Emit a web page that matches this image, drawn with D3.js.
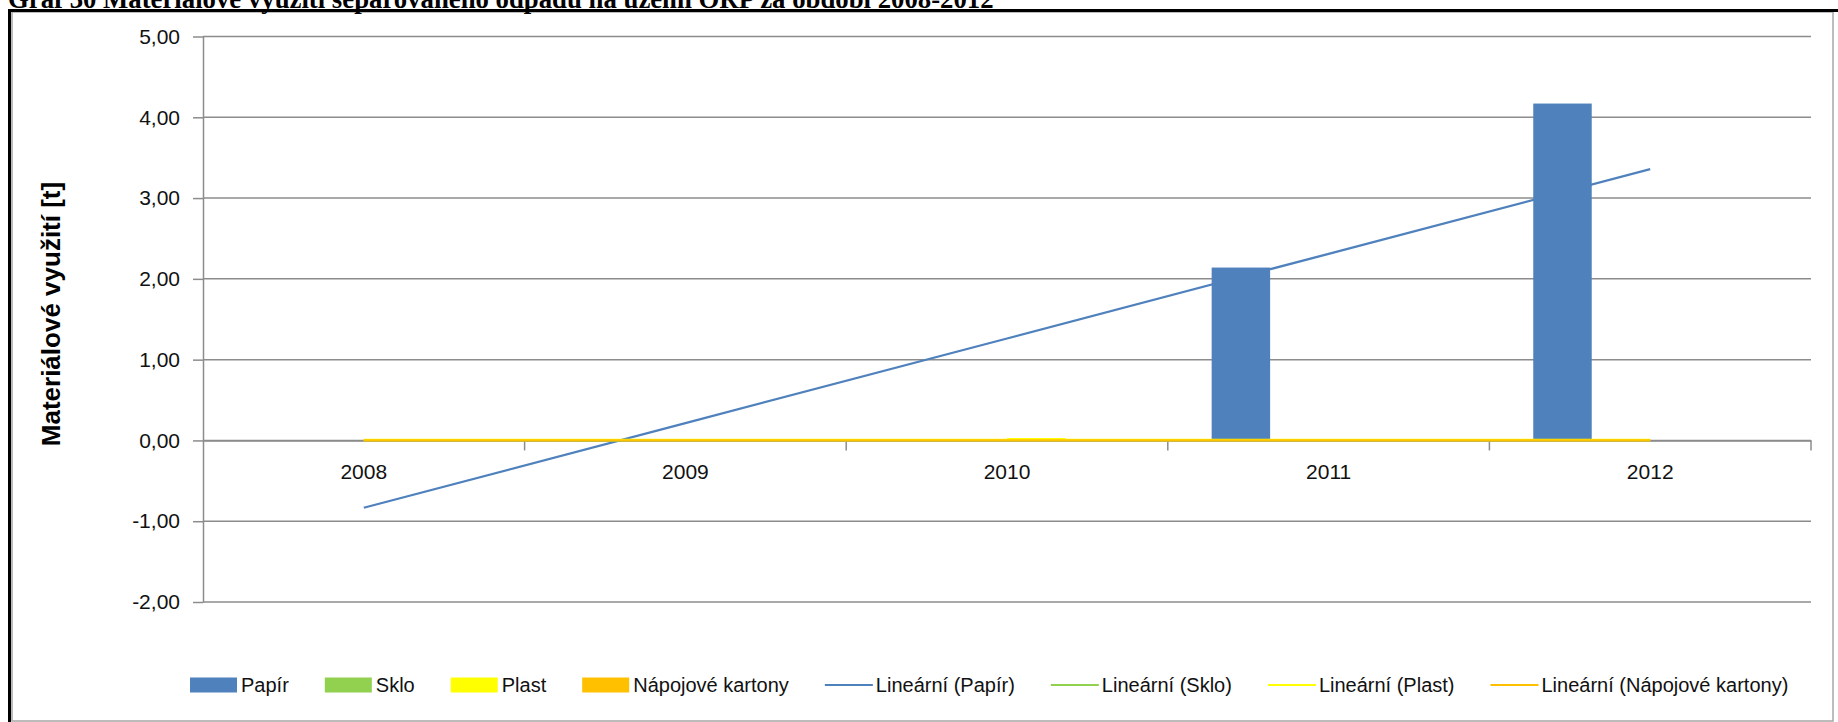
<!DOCTYPE html>
<html>
<head>
<meta charset="utf-8">
<script src="https://cdn.jsdelivr.net/npm/d3@7"></script>
<style>
  html, body { margin: 0; padding: 0; background: #fff; }
  svg { display: block; }
</style>
</head>
<body>
<svg id="chart" width="1838" height="722"></svg>
<script>
// ---- data ----
const titleText = "Graf 30 Materiálové využití separovaného odpadu na území ORP za období 2008-2012";
const yAxisTitle = "Materiálové využití [t]";
const years = ["2008", "2009", "2010", "2011", "2012"];
const seriesNames = ["Papír", "Sklo", "Plast", "Nápojové kartony"];
const papir = [0, 0, 0, 2.14, 4.17];
const sklo = [0, 0, 0, 0, 0];
const plast = [0, 0, 0.03, 0, 0];
const napojoveKartony = [0, 0, 0, 0, 0];
const yTickValues = [-2, -1, 0, 1, 2, 3, 4, 5];
const trendPrefix = "Lineární";

// ---- styles ----
const colors = ["#4f81bd", "#92d050", "#ffff00", "#ffc000"];
const gridColor = "#8c8c8c";
const fontSans = "'Liberation Sans', Arial, sans-serif";

const seriesValues = [papir, sklo, plast, napojoveKartony];
const series = seriesNames.map((name, i) => ({ name, color: colors[i], values: seriesValues[i] }));

const svg = d3.select("#chart");
svg.append("rect").attr("width", 1838).attr("height", 722).attr("fill", "#fff");

// plot geometry
const plot = { left: 203, right: 1811, top: 36.5, bottom: 602 };

const x = d3.scaleBand().domain(years).range([plot.left, plot.right]).paddingInner(0).paddingOuter(0);
const xInner = d3.scaleBand().domain(seriesNames).range([0, x.bandwidth()]).paddingInner(0).paddingOuter(0.75);
const y = d3.scaleLinear().domain([-2, 5]).range([plot.bottom, plot.top]);

const loc = d3.formatLocale({ decimal: ",", thousands: " ", grouping: [3], currency: ["", " Kč"], minus: "-" });
const fmt = loc.format(".2f");

// chart-area border and outer frame
svg.append("rect")
  .attr("x", 12).attr("y", 12).attr("width", 1821).attr("height", 709)
  .attr("fill", "none").attr("stroke", "#a6a6a6").attr("stroke-width", 1.5);
svg.append("path")
  .attr("d", "M9.5,722V10.5H1838")
  .attr("fill", "none").attr("stroke", "#000").attr("stroke-width", 3);

// title (cut at the top as in the original)
const title = svg.append("text")
  .attr("x", 8).attr("y", 7.5)
  .attr("font-family", "'Liberation Serif', 'Times New Roman', serif")
  .attr("font-weight", "bold")
  .attr("font-size", 26)
  .attr("fill", "#000")
  .text(titleText);
const tl = title.node().getComputedTextLength();
title.attr("font-size", 26 * 986 / tl);

// gridlines
svg.append("g")
  .selectAll("line")
  .data(yTickValues)
  .join("line")
  .attr("x1", plot.left).attr("x2", plot.right)
  .attr("y1", d => y(d)).attr("y2", d => y(d))
  .attr("stroke", gridColor).attr("stroke-width", 1.5);

// y axis
const yAxis = svg.append("g")
  .attr("transform", `translate(${plot.left},0)`)
  .call(d3.axisLeft(y).tickValues(yTickValues).tickSize(10).tickPadding(13).tickFormat(fmt).tickSizeOuter(0));
yAxis.select(".domain").attr("stroke", gridColor).attr("stroke-width", 1.5);
yAxis.selectAll(".tick line").attr("stroke", gridColor).attr("stroke-width", 1.5);
yAxis.selectAll("text")
  .attr("font-family", fontSans).attr("font-size", 21).attr("fill", "#111");

// x axis (at zero)
const xAxis = svg.append("g")
  .attr("transform", `translate(0,${y(0)})`)
  .call(d3.axisBottom(x).tickSize(0).tickPadding(24));
xAxis.select(".domain").attr("stroke", gridColor).attr("stroke-width", 1.5);
xAxis.selectAll("text")
  .attr("font-family", fontSans).attr("font-size", 21).attr("fill", "#111");

// category boundary tick marks
const boundaries = years.map(d => x(d)).concat([x.range()[1]]).slice(1);
svg.append("g")
  .selectAll("line")
  .data(boundaries)
  .join("line")
  .attr("x1", d => d).attr("x2", d => d)
  .attr("y1", y(0)).attr("y2", y(0) + 10)
  .attr("stroke", gridColor).attr("stroke-width", 1.5);

// bars
const barG = svg.append("g");
series.forEach(s => {
  barG.append("g")
    .selectAll("rect")
    .data(s.values.map((v, i) => ({ year: years[i], v })))
    .join("rect")
    .attr("x", d => x(d.year) + xInner(s.name))
    .attr("width", xInner.bandwidth())
    .attr("y", d => y(Math.max(0, d.v)))
    .attr("height", d => Math.abs(y(d.v) - y(0)))
    .attr("fill", s.color);
});

// linear trendlines (least squares, like Excel "Lineární")
function linReg(vals) {
  const xs = vals.map((_, i) => i + 1);
  const mx = d3.mean(xs), my = d3.mean(vals);
  const sxy = d3.sum(xs, (xi, i) => (xi - mx) * (vals[i] - my));
  const sxx = d3.sum(xs, xi => (xi - mx) ** 2);
  const b = sxy / sxx, a = my - b * mx;
  return xs.map(xi => a + b * xi);
}
const line = d3.line()
  .x((d, i) => x(years[i]) + x.bandwidth() / 2)
  .y(d => y(d));
series.forEach(s => {
  svg.append("path")
    .attr("d", line(linReg(s.values)))
    .attr("fill", "none")
    .attr("stroke", s.color)
    .attr("stroke-width", 2.2);
});

// y axis title
svg.append("text")
  .attr("transform", `translate(60,314) rotate(-90)`)
  .attr("text-anchor", "middle")
  .attr("font-family", fontSans)
  .attr("font-weight", "bold")
  .attr("font-size", 26)
  .attr("fill", "#000")
  .text(yAxisTitle);

// legend
const legendItems = series.map(s => ({ label: s.name, color: s.color, type: "bar" }))
  .concat(series.map(s => ({ label: `${trendPrefix} (${s.name})`, color: s.color, type: "line" })));
const legend = svg.append("g");
let lx = 190;
const lyc = 685;
legendItems.forEach(it => {
  const g = legend.append("g");
  if (it.type === "bar") {
    g.append("rect").attr("x", lx).attr("y", lyc - 7.5).attr("width", 47).attr("height", 15).attr("fill", it.color);
  } else {
    g.append("line").attr("x1", lx).attr("x2", lx + 48).attr("y1", lyc).attr("y2", lyc)
      .attr("stroke", it.color).attr("stroke-width", 2);
  }
  const t = g.append("text")
    .attr("x", lx + 51).attr("y", lyc + 7)
    .attr("font-family", fontSans).attr("font-size", 20).attr("fill", "#111")
    .text(it.label);
  lx += 51 + t.node().getComputedTextLength() + 36;
});
</script>
</body>
</html>
